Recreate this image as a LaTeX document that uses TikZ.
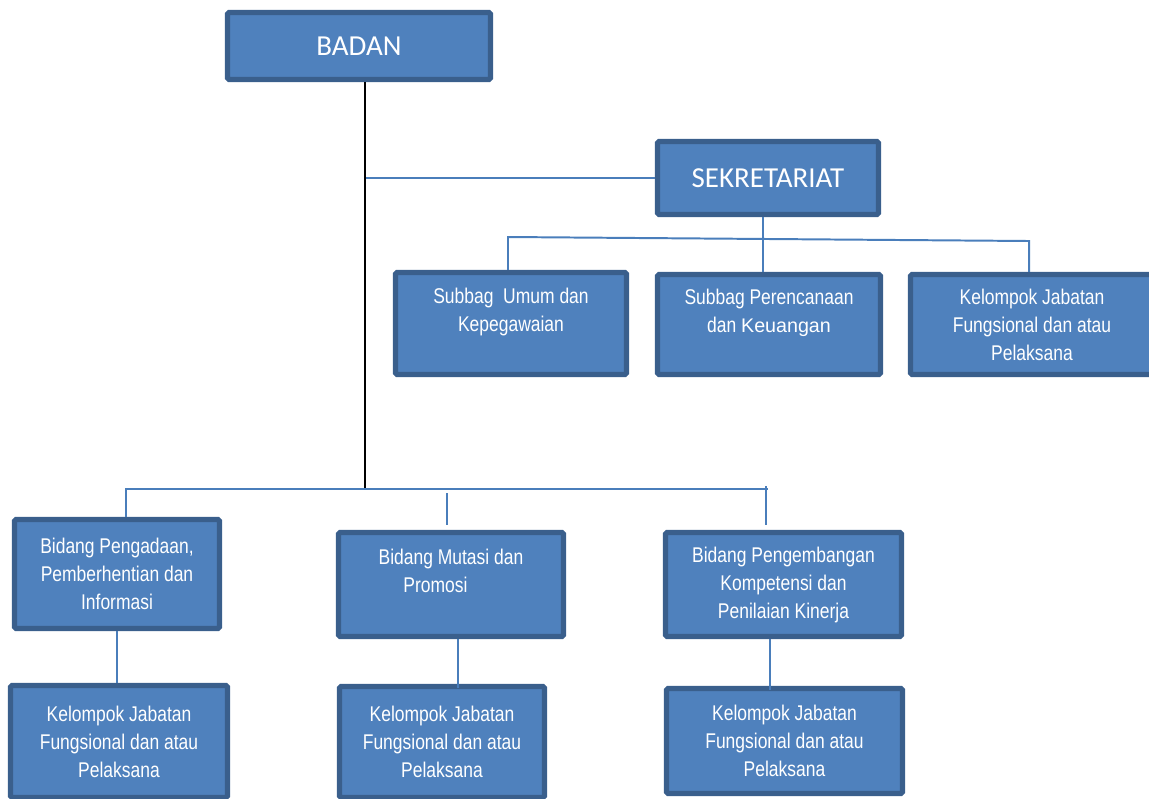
\documentclass[tikz,border=0pt]{standalone}
\usepackage{fontspec}
\newfontfamily\narrowfont[FakeStretch=0.82]{Liberation Sans}
\newfontfamily\widefont{Liberation Sans}
\newfontfamily\calfont{Carlito}
\definecolor{boxfill}{HTML}{4F81BD}
\definecolor{boxline}{HTML}{3A5F8C}
\definecolor{linkblue}{HTML}{4A7EBB}
\newlength\unitpx
\setlength\unitpx{0.025cm}
\begin{document}
\begin{tikzpicture}[x=0.025cm, y=-0.025cm,
		box/.style={rectangle, rounded corners=1pt, draw=boxline, fill=boxfill, line width=3.6pt, text=white, align=center, inner sep=0pt, font=\narrowfont\fontsize{15.15}{19.9}\selectfont},
		head/.style={box, font=\calfont\fontsize{20.6}{24}\selectfont},
		link/.style={draw=linkblue, line width=1.4pt},
		trunkline/.style={draw=black, line width=1.8pt}]
	\useasboundingbox (0,0) rectangle (1149,798);
	% \draw[help lines] (0,0) grid[step=50] (1149,798);

	\node (badan) at (359,46) [head, minimum width=263\unitpx, minimum height=67\unitpx] {BADAN};
	\node (sekre) at (768,178) [head, minimum width=221\unitpx, minimum height=73\unitpx] {SEKRETARIAT};

	\node (umum) at (511,323.5) [box, minimum width=231\unitpx, minimum height=102\unitpx] {Subbag~ Umum dan\\Kepegawaian\\\mbox{}};
	\node (renc) at (769,324.5) [box, minimum width=223\unitpx, minimum height=100\unitpx] {Subbag Perencanaan\\dan {\widefont\fontsize{14}{19.9}\selectfont Keuangan}\\\mbox{}};
	\node (kjfsek) at (1032,324.5) [box, minimum width=243\unitpx, minimum height=100\unitpx] {Kelompok Jabatan\\Fungsional dan atau\\Pelaksana};

	\node (pengadaan) at (117,574) [box, minimum width=205\unitpx, minimum height=109\unitpx] {Bidang Pengadaan,\\Pemberhentian dan\\Informasi};
	\node (mutasi) at (451,584.5) [box, minimum width=225\unitpx, minimum height=104\unitpx] {Bidang Mutasi dan\\Promosi\rule{31\unitpx}{0pt}\\\mbox{}};
	\node (kembang) at (783.5,584.5) [box, minimum width=236\unitpx, minimum height=104\unitpx] {Bidang Pengembangan\\Kompetensi dan\\Penilaian Kinerja};

	\node (kjfpeng) at (119,741.5) [box, minimum width=217\unitpx, minimum height=112\unitpx] {Kelompok Jabatan\\Fungsional dan atau\\Pelaksana};
	\node (kjfmut) at (442,742) [box, minimum width=205\unitpx, minimum height=111\unitpx] {Kelompok Jabatan\\Fungsional dan atau\\Pelaksana};
	\node (kjfkem) at (784.5,741) [box, minimum width=236\unitpx, minimum height=105\unitpx] {Kelompok Jabatan\\Fungsional dan atau\\Pelaksana};

	% trunk and bars
	\coordinate (trunk) at (365,488);
	\coordinate (sekbar) at (763,238);
	\coordinate (sekleft) at (508,237);
	\coordinate (sekright) at (1029,241);
	\coordinate (bidleft) at (126,489);
	\coordinate (bidright) at (768,489);
	\coordinate (muttop) at (447,493);
	\coordinate (kemtop) at (766,486);
	\coordinate (mutdown) at (458,688);
	\coordinate (kemdown) at (770,690);

	\draw[link] (sekre.west) -- (sekre.west -| trunk);
	\draw[link] (sekre.south -| sekbar) -- (sekbar |- renc.north);
	\draw[link] (sekleft |- umum.north) -- (sekleft) -- (sekright) -- (sekright |- kjfsek.north);
	\draw[link] (bidleft |- pengadaan.north) -- (bidleft) -- (bidright);
	\draw[link] (muttop) -- ++(0,32);
	\draw[link] (kemtop) -- ++(0,39);
	\draw[link] (pengadaan.south) -- (pengadaan.south |- kjfpeng.north);
	\draw[link] (mutasi.south -| mutdown) -- (mutdown);
	\draw[link] (kembang.south -| kemdown) -- (kemdown);
	\draw[trunkline] (badan.south -| trunk) -- (trunk);
\end{tikzpicture}
\end{document}
